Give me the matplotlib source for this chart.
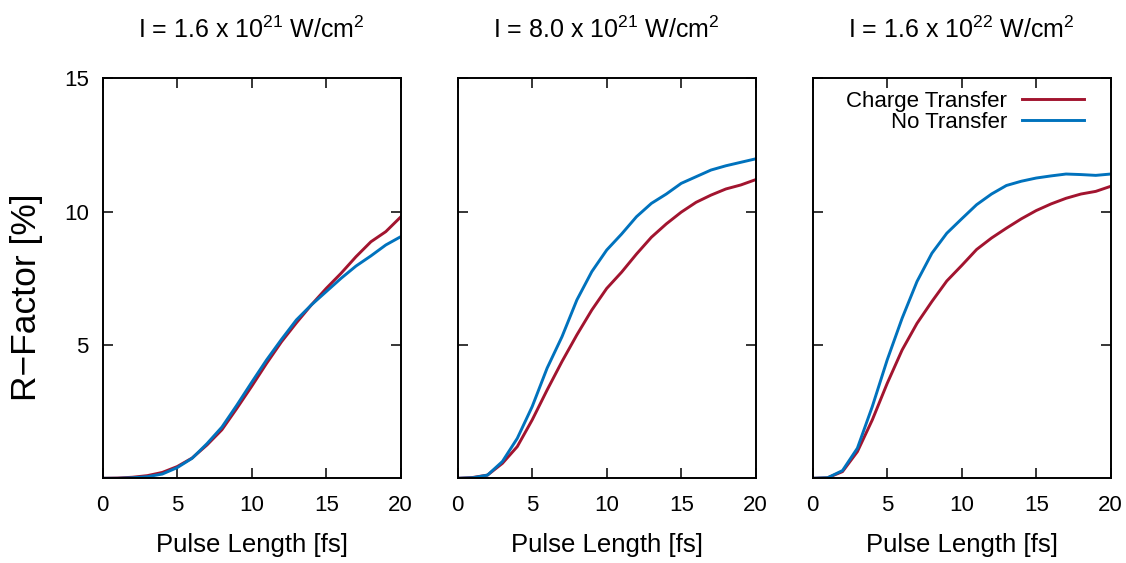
import matplotlib
matplotlib.use("Agg")
import matplotlib.pyplot as plt

plt.rcParams["font.family"] = ["Liberation Sans", "DejaVu Sans"]
plt.rcParams["mathtext.default"] = "regular"

pulse_fs = list(range(0, 21))

titles = [
    "I = 1.6 x 10$^{21}$ W/cm$^{2}$",
    "I = 8.0 x 10$^{21}$ W/cm$^{2}$",
    "I = 1.6 x 10$^{22}$ W/cm$^{2}$",
]

# R-factor [%] with charge transfer
charge_transfer = [
    [0.0, 0.01, 0.04, 0.10, 0.22, 0.44, 0.76, 1.25, 1.82, 2.62, 3.45,
     4.31, 5.12, 5.83, 6.50, 7.12, 7.69, 8.31, 8.87, 9.25, 9.80],
    [0.0, 0.03, 0.12, 0.56, 1.19, 2.19, 3.31, 4.38, 5.38, 6.31, 7.12,
     7.73, 8.41, 9.04, 9.54, 9.98, 10.35, 10.62, 10.85, 11.00, 11.20],
    [0.0, 0.02, 0.25, 1.00, 2.19, 3.56, 4.81, 5.81, 6.63, 7.40, 7.98,
     8.58, 9.01, 9.38, 9.73, 10.04, 10.29, 10.50, 10.66, 10.76, 10.95],
]

# R-factor [%] without charge transfer
no_transfer = [
    [0.0, 0.0, 0.02, 0.06, 0.16, 0.40, 0.75, 1.30, 1.92, 2.74, 3.60,
     4.44, 5.21, 5.94, 6.50, 7.00, 7.50, 7.96, 8.34, 8.75, 9.06],
    [0.0, 0.02, 0.12, 0.63, 1.50, 2.69, 4.13, 5.31, 6.69, 7.75, 8.56,
     9.16, 9.81, 10.31, 10.66, 11.06, 11.31, 11.56, 11.72, 11.85, 11.98],
    [0.0, 0.02, 0.29, 1.13, 2.69, 4.44, 6.00, 7.38, 8.44, 9.19, 9.73,
     10.26, 10.66, 10.98, 11.14, 11.26, 11.34, 11.41, 11.39, 11.36, 11.41],
]

x_ticks = [0, 5, 10, 15, 20]
y_ticks = [5, 10, 15]

red = "#A2142F"
blue = "#0072BD"

W, H = 1126, 563
fig = plt.figure(figsize=(W / 100, H / 100), dpi=100)

lefts = [102.7, 457.7, 812.7]
ax_w, ax_top, ax_bot = 298.0, 78.3, 478.3

axes = []
for i, left in enumerate(lefts):
    ax = fig.add_axes([left / W, 1 - ax_bot / H, ax_w / W, (ax_bot - ax_top) / H])
    axes.append(ax)
    ax.plot(pulse_fs, charge_transfer[i], color=red, lw=2.1,
            label="Charge Transfer", solid_joinstyle="round")
    ax.plot(pulse_fs, no_transfer[i], color=blue, lw=2.1,
            label="No Transfer", solid_joinstyle="round")
    ax.set_xlim(0, 20)
    ax.set_ylim(0, 15)
    ax.set_xticks(x_ticks)
    ax.set_yticks(y_ticks)
    ax.tick_params(direction="in", length=7, width=1.1, top=True, right=True,
                   labelsize=16)
    ax.tick_params(axis="x", pad=12)
    ax.tick_params(axis="y", pad=10)
    if i > 0:
        ax.set_yticklabels([])
    for sp in ax.spines.values():
        sp.set_linewidth(1.4)
    ax.set_xlabel("Pulse Length [fs]", fontsize=18.5, labelpad=12)
    ax.set_title(titles[i], fontsize=18, pad=29)

fig.text(27 / W, 1 - 297 / H, "R\u2212Factor [%]", fontsize=25.5,
         rotation=90, ha="center", va="center")

axes[2].legend(loc="upper right", bbox_to_anchor=(0.94, 0.99),
               borderaxespad=0.0, frameon=False, markerfirst=False,
               fontsize=16, handlelength=2.8, handletextpad=0.66,
               labelspacing=0.0)

fig.savefig("out.png", dpi=100)
